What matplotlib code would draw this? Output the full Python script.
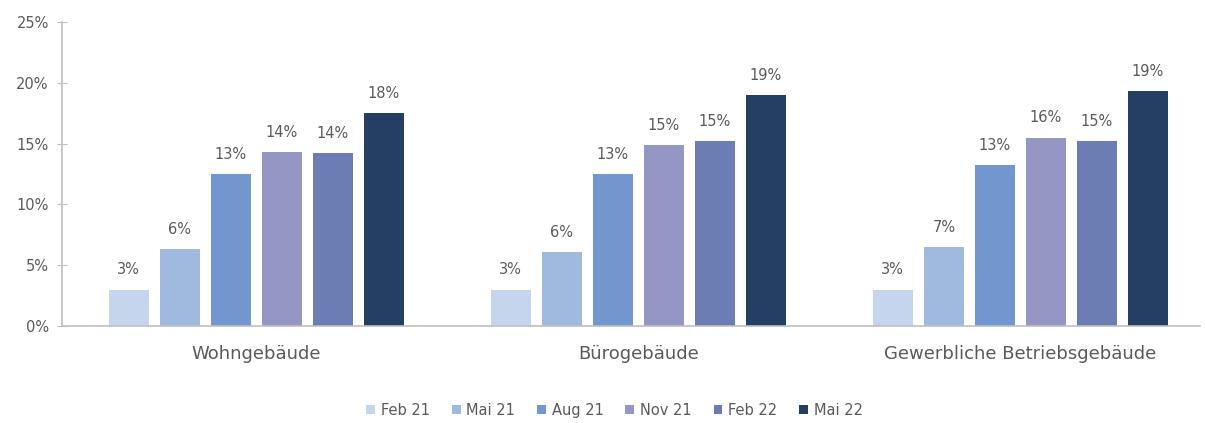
import matplotlib.pyplot as plt
import numpy as np

plt.rcParams['font.family'] = ['DejaVu Sans']

categories = ['Wohngebäude', 'Bürogebäude', 'Gewerbliche Betriebsgebäude']
series = ['Feb 21', 'Mai 21', 'Aug 21', 'Nov 21', 'Feb 22', 'Mai 22']
values = [
    [3.0, 3.0, 3.0],
    [6.3, 6.1, 6.5],
    [12.5, 12.5, 13.2],
    [14.3, 14.9, 15.5],
    [14.2, 15.2, 15.2],
    [17.5, 19.0, 19.3],
]
labels = [
    ['3%', '3%', '3%'],
    ['6%', '6%', '7%'],
    ['13%', '13%', '13%'],
    ['14%', '15%', '16%'],
    ['14%', '15%', '15%'],
    ['18%', '19%', '19%'],
]
colors = ['#c5d6ec', '#a0b9df', '#7297cf', '#9497c4', '#6b7db3', '#253f63']
text_col = '#5a5a5a'

fig = plt.figure(figsize=(12.05, 4.23), dpi=100)
ax = fig.add_axes([62 / 1205, 97 / 423, 1138 / 1205, 304 / 423])

x = np.arange(len(categories))
step = 0.1335
width = 0.105
for i, (name, vals) in enumerate(zip(series, values)):
    pos = x + (i - 2.5) * step
    bars = ax.bar(pos, vals, width=width, color=colors[i], label=name)
    for b, lab in zip(bars, labels[i]):
        ax.text(b.get_x() + b.get_width() / 2, b.get_height() + 1.0, lab,
                ha='center', va='bottom', fontsize=10.5, color=text_col)

ax.set_ylim(0, 25)
ax.set_xlim(-0.508, 2.47)
ax.set_yticks([0, 5, 10, 15, 20, 25])
ax.set_yticklabels(['0%', '5%', '10%', '15%', '20%', '25%'])
ax.set_xticks(x)
ax.set_xticklabels(categories)
ax.tick_params(axis='y', colors='#bfbfbf', labelcolor=text_col, labelsize=10.5,
               length=7, direction='inout', pad=6)
ax.tick_params(axis='x', length=0, labelcolor=text_col, labelsize=13, pad=14)
for s in ['top', 'right']:
    ax.spines[s].set_visible(False)
ax.spines['left'].set_color('#bfbfbf')
ax.spines['bottom'].set_color('#bfbfbf')
ax.spines['left'].set_linewidth(1.2)
ax.spines['bottom'].set_linewidth(1.2)

fig.legend(loc='center', bbox_to_anchor=(0.51, 13 / 423), ncol=6, frameon=False,
           fontsize=10.5, handlelength=0.6, handleheight=0.6, handletextpad=0.4,
           columnspacing=1.5, labelcolor=text_col)

fig.savefig('out.png', dpi=100)
